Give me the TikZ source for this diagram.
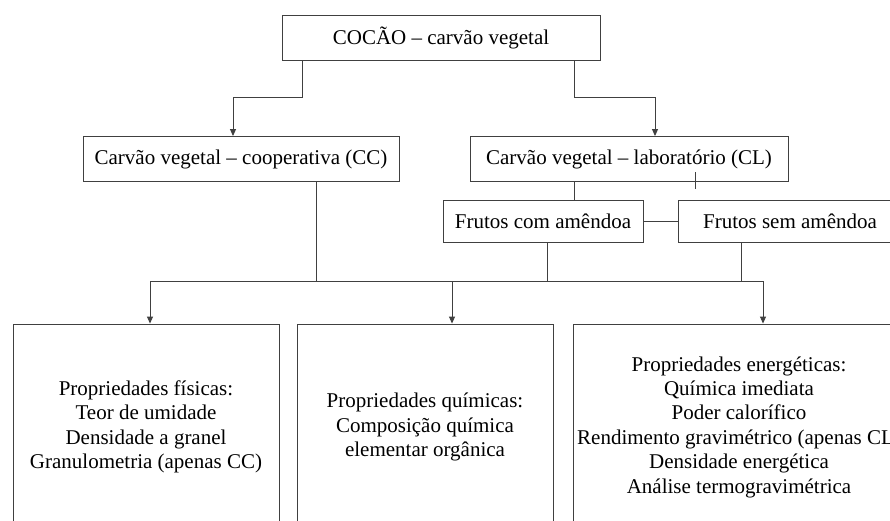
\documentclass[tikz,border=0pt]{standalone}
\usepackage{fontspec}
\setmainfont{Liberation Serif}
\newfontfamily\tnr{Liberation Serif}
\usetikzlibrary{arrows.meta}
\definecolor{linec}{gray}{0.25}
\tikzset{
  conn/.style={draw=linec, line width=0.9pt},
  tip/.style={-{Triangle[length=7pt,width=6pt]}},
  box/.style={draw=linec, line width=0.9pt, inner sep=0pt, align=center,
    font=\tnr\fontsize{21}{24.4}\selectfont, fill=white},
}
\begin{document}
\begin{tikzpicture}[x=1pt,y=-1pt]
\useasboundingbox (0,0) rectangle (890,520);
\clip (0,0) rectangle (890,520);
\fill[white] (0,0) rectangle (890,520);

\node[box, minimum width=318pt, minimum height=45pt] (top) at (441,37.5) {COCÃO – carvão vegetal};
\node[box, minimum width=316pt, minimum height=45pt] (cc) at (241,159) {Carvão vegetal – cooperativa (CC)};
\node[box, minimum width=318pt, minimum height=45pt] (cl) at (629,159) {Carvão vegetal – laboratório (CL)};
\node[box, minimum width=200pt, minimum height=42pt] (fc) at (543,221) {Frutos com amêndoa};
\node[box, minimum width=224pt, minimum height=42pt] (fs) at (790,221) {Frutos sem amêndoa};
\node[box, minimum width=266pt, minimum height=206pt] (p1) at (146,427) {Propriedades físicas:\\Teor de umidade\\Densidade a granel\\Granulometria (apenas CC)};
\node[box, minimum width=256pt, minimum height=206pt] (p2) at (425,427) {Propriedades químicas:\\Composição química\\elementar orgânica};
\node[box, minimum width=332pt, minimum height=206pt] (p3) at (739,427) {Propriedades energéticas:\\Química imediata\\Poder calorífico\\Rendimento gravimétrico (apenas CL)\\Densidade energética\\Análise termogravimétrica};

\coordinate (a1) at (302,97);
\coordinate (a2) at (233,97);
\coordinate (b1) at (574,97);
\coordinate (b2) at (655,97);
\coordinate (c1) at (574,190);
\coordinate (t1) at (695,172);
\coordinate (t2) at (695,189);
\coordinate (bl) at (150,281);
\coordinate (bm) at (452,281);
\coordinate (br) at (763,281);
\coordinate (d1) at (316,281);
\coordinate (d2) at (547,281);
\coordinate (d3) at (741,281);

\draw[conn, tip] (top.south -| a1) -- (a1) -- (a2) -- (cc.north -| a2);
\draw[conn, tip] (top.south -| b1) -- (b1) -- (b2) -- (cl.north -| b2);
\draw[conn] (cl.south -| c1) -- (fc.north -| c1);
\draw[conn] (t1) -- (t2);
\draw[conn] (fc.east) -- (fs.west);
\draw[conn] (cc.south -| d1) -- (d1);
\draw[conn] (fc.south -| d2) -- (d2);
\draw[conn] (fs.south -| d3) -- (d3);
\draw[conn] (bl) -- (br);
\draw[conn, tip] (bl) -- (p1.north -| bl);
\draw[conn, tip] (bm) -- (p2.north -| bm);
\draw[conn, tip] (br) -- (p3.north -| br);
\end{tikzpicture}
\end{document}
